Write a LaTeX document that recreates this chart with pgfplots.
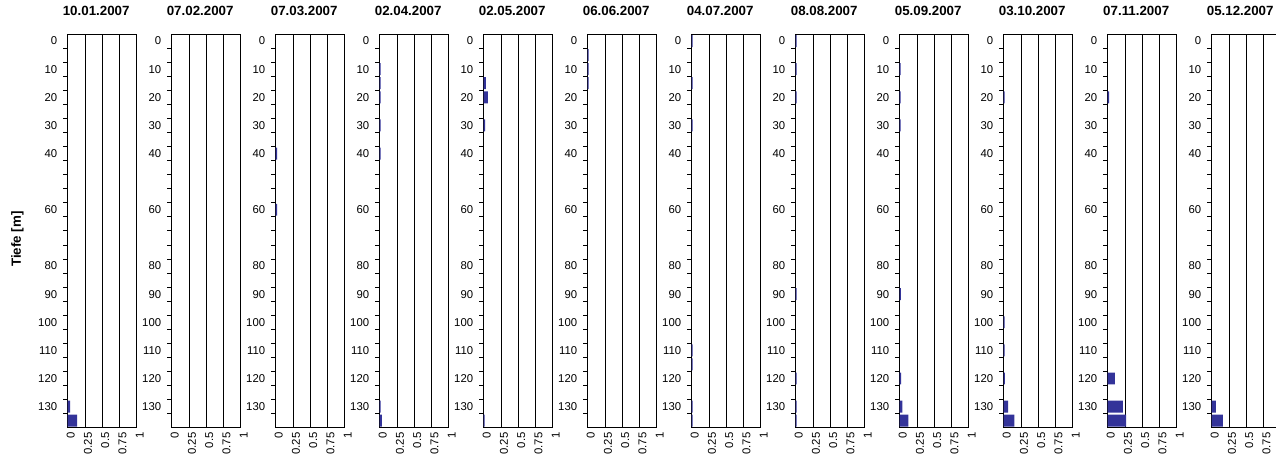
\documentclass[border=0pt]{standalone}
\usepackage{fontspec}
\setmainfont{Liberation Sans}
\usepackage{pgfplots}
\pgfplotsset{compat=1.18}
\definecolor{barblue}{HTML}{333399}
\newlength{\px}
\setlength{\px}{0.75pt}

% one depth profile; y is the category index (0 m at the top), bars sit at index+0.5
\pgfplotsset{
  panel/.style={
    scale only axis, width=69\px, height=393.7\px,
    anchor=north west,
    xmin=0, xmax=1, ymin=0, ymax=28, y dir=reverse,
    xtick={0,0.25,0.5,0.75,1}, xticklabels={0,0.25,0.5,0.75,1},
    ytick={0.5,2.5,4.5,6.5,8.5,12.5,16.5,18.5,20.5,22.5,24.5,26.5},
    yticklabels={0,10,20,30,40,60,80,90,100,110,120,130},
    minor ytick={1,...,27},
    xtick pos=bottom, ytick pos=left,
    tick align=outside, major tick length=0pt, minor tick length=3.2pt,
    xmajorgrids, major grid style={black, line width=0.6pt},
    minor tick style={black, line width=0.6pt},
    axis line style={black, line width=0.75pt},
    tick label style={font=\fontsize{8.5}{10}\selectfont},
    x tick label style={rotate=90, anchor=east, yshift=-2.3pt},
    y tick label style={xshift=-4.4pt},
    title style={font=\bfseries\fontsize{10}{12}\selectfont, at={(0.5,1)},
      anchor=base, yshift=8.25pt, xshift=-4.5pt},
    xbar, bar width=0.85,
    every axis plot post/.append style={fill=barblue, draw=none},
  }
}

\begin{document}
\begin{tikzpicture}
\path[use as bounding box] (0,0) rectangle (1276\px,-462\px);
\node[rotate=90, font=\bfseries\fontsize{10}{12}\selectfont] at (17.5\px,-239\px) {Tiefe [m]};

\begin{axis}[panel, at={(67.7\px,-34\px)}, title={10.01.2007}]
\addplot coordinates {(0.034,26.5) (0.135,27.5)};
\end{axis}

\begin{axis}[panel, at={(171.7\px,-34\px)}, title={07.02.2007}]
\end{axis}

\begin{axis}[panel, at={(275.7\px,-34\px)}, title={07.03.2007}]
\addplot coordinates {(0.02,8.5) (0.02,12.5)};
\end{axis}

\begin{axis}[panel, at={(379.7\px,-34\px)}, title={02.04.2007}]
\addplot coordinates {(0.015,2.5) (0.015,3.5) (0.015,4.5) (0.015,6.5) (0.015,8.5) (0.015,26.5) (0.03,27.5)};
\end{axis}

\begin{axis}[panel, at={(483.7\px,-34\px)}, title={02.05.2007}]
\addplot coordinates {(0.03,3.5) (0.06,4.5) (0.02,6.5) (0.015,27.5)};
\end{axis}

\begin{axis}[panel, at={(587.7\px,-34\px)}, title={06.06.2007}]
\addplot coordinates {(0.012,1.5) (0.012,2.5) (0.012,3.5)};
\end{axis}

\begin{axis}[panel, at={(691.7\px,-34\px)}, title={04.07.2007}]
\addplot coordinates {(0.012,0.5) (0.012,3.5) (0.012,6.5) (0.012,22.5) (0.012,23.5) (0.012,26.5) (0.012,27.5)};
\end{axis}

\begin{axis}[panel, at={(795.7\px,-34\px)}, title={08.08.2007}]
\addplot coordinates {(0.012,0.5) (0.012,2.5) (0.012,4.5) (0.012,18.5) (0.012,24.5) (0.012,26.5) (0.012,27.5)};
\end{axis}

\begin{axis}[panel, at={(899.7\px,-34\px)}, title={05.09.2007}]
\addplot coordinates {(0.012,2.5) (0.012,4.5) (0.012,6.5) (0.015,18.5) (0.02,24.5) (0.04,26.5) (0.125,27.5)};
\end{axis}

\begin{axis}[panel, at={(1003.7\px,-34\px)}, title={03.10.2007}]
\addplot coordinates {(0.012,4.5) (0.012,20.5) (0.012,22.5) (0.015,24.5) (0.065,26.5) (0.155,27.5)};
\end{axis}

\begin{axis}[panel, at={(1107.7\px,-34\px)}, title={07.11.2007}]
\addplot coordinates {(0.02,4.5) (0.105,24.5) (0.22,26.5) (0.265,27.5)};
\end{axis}

\begin{axis}[panel, at={(1211.7\px,-34\px)}, title={05.12.2007}]
\addplot coordinates {(0.06,26.5) (0.16,27.5)};
\end{axis}
\end{tikzpicture}
\end{document}
